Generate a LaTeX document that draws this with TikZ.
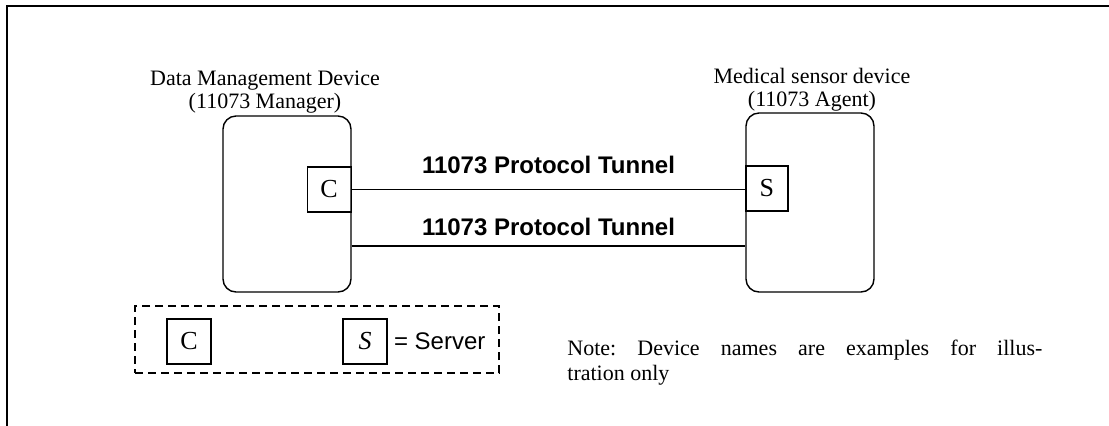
\documentclass[tikz,border=0pt]{standalone}
\usepackage{fontspec}
\setmainfont{Liberation Serif}
\newfontfamily\labelfont{Liberation Sans}
\usetikzlibrary{positioning}

\begin{document}
\frenchspacing
\begin{tikzpicture}[
		x = 0.5pt, y = -0.5pt,
		device/.style = { draw, line width = 0.7pt, rounded corners = 6.5pt, minimum width = 64pt, minimum height = 88pt, inner sep = 0pt },
		port/.style = { draw, line width = 0.6pt, minimum width = 22pt, minimum height = 22.5pt, inner sep = 0pt, font = \fontsize{13pt}{15pt}\selectfont },
		title/.style = { align = center, inner sep = 0pt, font = \fontsize{11pt}{11.5pt}\selectfont },
		tunnel/.style = { inner sep = 0pt, font = \labelfont\bfseries\fontsize{12pt}{14pt}\selectfont },
		link/.style = { line width = 0.7pt }
	]
	\useasboundingbox (0,0) rectangle (1109,425);
	\draw [line width = 1pt] (7,430) -- (7,6) -- (1115,6);

	% the two devices
	\node [device] (manager) at (287,204) {};
	\node [device, minimum height = 89.5pt] (agent) at (810,202.5) {};
	\node [title, anchor = south] (managername) at (265,113.5) { Data Management Device \\ (11073 Manager) };
	\node [title, anchor = south] (agentname) at (812,112) { Medical sensor device \\ (11073 Agent) };

	% client and server ends
	\node [port, anchor = east] (client) at ([yshift = 7.25pt] manager.east) { C };
	\node [port, anchor = west, minimum width = 21pt] (server) at ([yshift = 7pt] agent.west) { S };

	% tunnels
	\draw [link] (client.east) -- (client.east -| server.west)
		node [midway, above = 7.5pt, tunnel] { 11073 Protocol Tunnel };
	\draw [link] ([yshift = -21pt] manager.east) -- ([yshift = -21pt] manager.east -| agent.west)
		node [midway, above = 5pt, tunnel] { 11073 Protocol Tunnel };

	% legend
	\node [draw, dash pattern = on 4pt off 2.5pt, line width = 0.7pt, minimum width = 182pt, minimum height = 33.5pt, inner sep = 0pt] (legend) at (317,339.5) {};
	\node [port] (legendclient) at (189,341.5) { C };
	\node [port] (legendserver) at (365,341.5) { \textit{S} };
	\node [right = 3pt of legendserver, inner sep = 0pt, font = \labelfont\fontsize{12pt}{14pt}\selectfont] (servername) { = Server };

	\node [anchor = north west, text width = 237.5pt, align = justify, inner sep = 0pt, font = \fontsize{11pt}{12.5pt}\selectfont] (note) at (567,340) { Note: Device names are examples for illus-\linebreak tration only };
\end{tikzpicture}
\end{document}
